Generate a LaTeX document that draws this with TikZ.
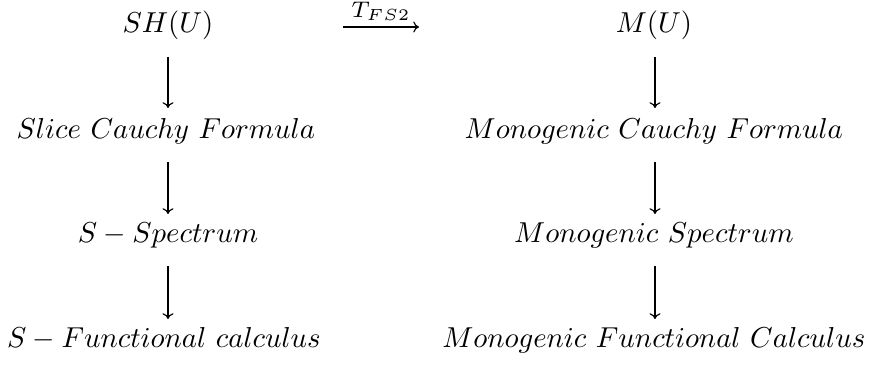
\documentclass[tikz,border=0pt]{standalone}
\usetikzlibrary{arrows.meta}
\begin{document}
\begin{tikzpicture}[x=0.347pt,y=-0.347pt,
  lbl/.style={inner sep=0pt,anchor=base},
  varr/.style={-{To[length=2pt,width=3.8pt]},line width=0.4pt},
  harr/.style={-{To[length=2pt,width=3.8pt]},line width=0.4pt}]
\useasboundingbox (0,0) rectangle (878,383);
% left column
\node[lbl] (a1) at (168,33) {$SH(U)$};
\node[lbl] (a2) at (166,139) {$Slice\ Cauchy\ Formula$};
\node[lbl] (a3) at (168,243) {$S-Spectrum$};
\node[lbl] (a4) at (164,348) {$S-Functional\ calculus$};
% right column
\node[lbl] (b1) at (654,33) {$M(U)$};
\node[lbl] (b2) at (654,139) {$Monogenic\ Cauchy\ Formula$};
\node[lbl] (b3) at (654,243) {$Monogenic\ Spectrum$};
\node[lbl] (b4) at (654,348) {$Monogenic\ Functional\ Calculus$};
% arrow endpoints
\coordinate (la1) at (168,57); \coordinate (la2) at (168,108);
\coordinate (lb1) at (168,162); \coordinate (lb2) at (168,214);
\coordinate (lc1) at (168,266); \coordinate (lc2) at (168,319);
\coordinate (ra1) at (655,57); \coordinate (ra2) at (655,108);
\coordinate (rb1) at (655,162); \coordinate (rb2) at (655,214);
\coordinate (rc1) at (655,266); \coordinate (rc2) at (655,319);
\draw[varr] (la1) -- (la2);
\draw[varr] (lb1) -- (lb2);
\draw[varr] (lc1) -- (lc2);
\draw[varr] (ra1) -- (ra2);
\draw[varr] (rb1) -- (rb2);
\draw[varr] (rc1) -- (rc2);
% top arrow
\coordinate (t1) at (343,27); \coordinate (t2) at (419,27);
\draw[harr] (t1) -- node[above=1.2pt,inner sep=0.8pt,scale=1.12] (tl) {$\scriptstyle T_{FS2}$} (t2);
\end{tikzpicture}
\end{document}
